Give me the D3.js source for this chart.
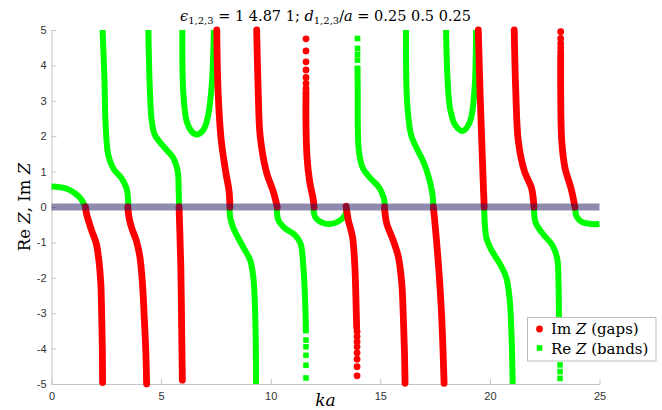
<!DOCTYPE html>
<html>
<head>
<meta charset="utf-8">
<script src="https://cdn.jsdelivr.net/npm/d3@7"></script>
<style>
  body { margin: 0; background: #fff; }
  svg { display: block; }
  .tick text { font-family: "Liberation Sans", Arial, sans-serif; font-size: 11px; fill: #333; }
  .serif { font-family: "DejaVu Serif", "Liberation Serif", serif; fill: #000; }
</style>
</head>
<body>
<div id="canvas"></div>
<script>
// tick labels
var xTicks = [0, 5, 10, 15, 20, 25];
var yTicks = [-5, -4, -3, -2, -1, 0, 1, 2, 3, 4, 5];

// Im Z (gaps) -- continuous parts [ka, Im Z]
var imGap1 = [[1.55,0],[1.6,-0.2],[1.72,-0.45],[1.85,-0.7],[2.04,-1.03],[2.16,-1.5],[2.25,-2.16],[2.29,-3.1],[2.32,-4.04],[2.33,-4.96]];
var imGap2 = [[3.48,0],[3.53,-0.27],[3.65,-0.58],[3.87,-0.95],[4.03,-1.4],[4.15,-2.16],[4.23,-3.1],[4.3,-4.04],[4.34,-5]];
var imGap3 = [[5.82,0],[5.85,-0.6],[5.9,-1.69],[5.94,-3.56],[5.97,-4.89]];
var imGap4 = [[7.54,5],[7.6,3.26],[7.74,1.9],[7.96,0.95],[8.1,0.45],[8.14,0]];
var imGap5 = [[9.36,5],[9.43,3.26],[9.52,2.0],[9.8,1.0],[10.12,0.43],[10.3,0]];
var imGap6 = [[11.61,3.25],[11.61,2.32],[11.66,1.38],[11.78,0.71],[11.93,0.25],[11.98,0]];
var imGap7 = [[13.44,0.02],[13.54,-0.37],[13.73,-0.84],[13.84,-1.69],[13.89,-2.63],[13.92,-3.4]];
var imGap8 = [[15.19,0],[15.29,-0.46],[15.58,-0.93],[15.82,-1.4],[15.98,-2.16],[16.05,-3.1],[16.1,-4.04],[16.13,-4.98]];
var imGap9 = [[17.42,0],[17.5,-0.5],[17.66,-1.69],[17.8,-3.1],[17.91,-4.98]];
var imGap10 = [[19.47,5],[19.55,3.26],[19.63,1.84],[19.7,0.62],[19.74,0]];
var imGap11 = [[21.11,5],[21.18,3.26],[21.3,1.84],[21.58,1.0],[21.9,0.53],[22.01,0]];
var imGap12 = [[23.23,4.3],[23.23,3.26],[23.28,1.84],[23.43,1.09],[23.7,0.53],[23.88,0]];
// Im Z -- single markers where the points thin out
var imDots = [
  [11.61,4.75],[11.61,4.41],[11.61,4.1],[11.61,3.87],[11.61,3.66],[11.61,3.49],[11.61,3.35],
  [13.94,-3.52],[13.94,-3.66],[13.94,-3.81],[13.94,-3.95],[13.94,-4.12],[13.94,-4.3],[13.94,-4.51],[13.94,-4.77],
  [23.23,4.95],[23.23,4.76],[23.23,4.62],[23.23,4.5],[23.23,4.39]
];

// Re Z (bands) -- continuous parts [ka, Re Z]
var reBand1 = [[0,0.58],[0.62,0.53],[1.07,0.39],[1.38,0.2],[1.53,0],[1.55,-0.05]];
var reBand2 = [[2.33,5],[2.41,3.73],[2.47,2.32],[2.59,1.47],[2.82,1.09],[3.2,0.81],[3.42,0.53],[3.49,0.25],[3.5,0]];
var reBand3 = [[4.42,5],[4.49,3.26],[4.58,2.4],[4.72,2.03],[5.18,1.66],[5.56,1.38],[5.76,1.0],[5.8,0.5],[5.82,0]];
var reBand4 = [[5.97,5],[6.01,3.26],[6.17,2.41],[6.4,2.13],[6.62,2.05],[6.93,2.18],[7.15,2.6],[7.31,3.45],[7.41,5]];
var reBand5 = [[8.12,0],[8.16,-0.32],[8.3,-0.6],[8.75,-1.14],[9.06,-1.5],[9.21,-2.0],[9.28,-2.77],[9.32,-3.9],[9.33,-5]];
var reBand6 = [[10.28,0],[10.35,-0.37],[10.65,-0.6],[11.1,-0.79],[11.36,-1.03],[11.49,-1.69],[11.57,-2.63],[11.61,-3.57]];
var reBand7 = [[11.96,0],[12.02,-0.27],[12.33,-0.44],[12.71,-0.48],[13.08,-0.41],[13.39,-0.23],[13.47,0]];
var reBand8 = [[13.96,4.0],[13.97,3.26],[14.02,1.6],[14.2,1.1],[14.6,0.78],[14.95,0.55],[15.16,0.25],[15.21,0]];
var reBand9 = [[16.17,5],[16.2,3.26],[16.28,2.55],[16.42,2.0],[16.7,1.61],[16.95,1.3],[17.16,0.95],[17.37,0.4],[17.42,0]];
var reBand10 = [[18.0,5],[18.06,3.73],[18.18,2.79],[18.41,2.32],[18.76,2.15],[19.09,2.41],[19.29,3.26],[19.37,5]];
var reBand11 = [[19.74,0],[19.77,-0.5],[19.85,-0.9],[20.1,-1.25],[20.45,-1.6],[20.75,-2.0],[20.9,-2.6],[20.98,-3.5],[21.04,-5]];
var reBand12 = [[22.01,0],[22.08,-0.43],[22.4,-0.75],[22.85,-1.08],[23.07,-1.45],[23.13,-2.16],[23.15,-3.1],[23.17,-4.04],[23.19,-4.3]];
var reBand13 = [[23.88,0],[23.96,-0.27],[24.19,-0.42],[24.64,-0.48],[25.0,-0.48]];
// Re Z -- single markers
var reSquares = [
  [11.61,-3.76],[11.61,-3.95],[11.61,-4.19],[11.61,-4.47],[11.61,-4.83],
  [13.96,4.76],[13.96,4.48],[13.96,4.31],[13.96,4.15],
  [23.2,-4.46],[23.2,-4.65],[23.2,-4.84]
];

var imGaps = [imGap1, imGap2, imGap3, imGap4, imGap5, imGap6, imGap7, imGap8, imGap9, imGap10, imGap11, imGap12];
var reBands = [reBand1, reBand2, reBand3, reBand4, reBand5, reBand6, reBand7, reBand8, reBand9, reBand10, reBand11, reBand12, reBand13];

var red = "#ff0000";
var green = "#00ff00";
var width = 662, height = 410;

var svg = d3.select("#canvas").append("svg").attr("width", width).attr("height", height);

var x = d3.scaleLinear().domain([0, 25]).range([51.5, 599.5]);
var y = d3.scaleLinear().domain([-5, 5]).range([384, 30]);

// axes (MATLAB style, ticks inside, no box)
svg.append("g")
    .attr("transform", "translate(0," + y(-5) + ")")
    .call(d3.axisBottom(x).tickValues(xTicks).tickSizeInner(-5).tickSizeOuter(0).tickPadding(8)
        .tickFormat(function(d) { return String(d); }));
svg.append("g")
    .attr("transform", "translate(" + x(0) + ",0)")
    .call(d3.axisLeft(y).tickValues(yTicks).tickSizeInner(-5).tickSizeOuter(0).tickPadding(5)
        .tickFormat(function(d) { return String(d); }));
svg.selectAll(".domain").attr("stroke", "#c4c4c4").attr("stroke-width", 1);
svg.selectAll(".tick line").attr("stroke", "#c4c4c4");

var line = d3.line()
    .x(function(d) { return x(d[0]); })
    .y(function(d) { return y(d[1]); })
    .curve(d3.curveCatmullRom.alpha(0.5));

// Re Z
svg.append("g").selectAll("path")
    .data(reBands)
    .enter()
    .append("path")
    .attr("d", line)
    .attr("fill", "none")
    .attr("stroke", green)
    .attr("stroke-width", 6)
    .attr("stroke-linecap", "butt");
svg.append("g").selectAll("rect")
    .data(reSquares)
    .enter()
    .append("rect")
    .attr("x", function(d) { return x(d[0]) - 2.8; })
    .attr("y", function(d) { return y(d[1]) - 2.8; })
    .attr("width", 5.6)
    .attr("height", 5.6)
    .attr("fill", green);

// Im Z
svg.append("g").selectAll("path")
    .data(imGaps)
    .enter()
    .append("path")
    .attr("d", line)
    .attr("fill", "none")
    .attr("stroke", red)
    .attr("stroke-width", 6.8)
    .attr("stroke-linecap", "round");
svg.append("g").selectAll("circle")
    .data(imDots)
    .enter()
    .append("circle")
    .attr("cx", function(d) { return x(d[0]); })
    .attr("cy", function(d) { return y(d[1]); })
    .attr("r", 3.4)
    .attr("fill", red);

// zero band
svg.append("line")
    .attr("x1", x(0)).attr("x2", x(25))
    .attr("y1", y(0)).attr("y2", y(0))
    .attr("stroke", "rgb(32,24,96)")
    .attr("stroke-opacity", 0.5)
    .attr("stroke-width", 7);

// title
var title = svg.append("text")
    .attr("class", "serif")
    .attr("x", (x(0) + x(25)) / 2)
    .attr("y", 21)
    .attr("text-anchor", "middle")
    .attr("font-size", "14.5px");
title.append("tspan").attr("font-style", "italic").text("ϵ");
title.append("tspan").attr("font-size", "10px").attr("dy", 3).text("1,2,3");
title.append("tspan").attr("dy", -3).text(" = 1 4.87 1; ");
title.append("tspan").attr("font-style", "italic").text("d");
title.append("tspan").attr("font-size", "10px").attr("dy", 3).text("1,2,3");
title.append("tspan").attr("dy", -3).text("/");
title.append("tspan").attr("font-style", "italic").text("a");
title.append("tspan").text(" = 0.25 0.5 0.25");

// axis labels
var yLabel = svg.append("text")
    .attr("class", "serif")
    .attr("transform", "translate(30," + y(0) + ") rotate(-90)")
    .attr("text-anchor", "middle")
    .attr("font-size", "16.5px");
yLabel.append("tspan").text("Re ");
yLabel.append("tspan").attr("font-style", "italic").text("Z");
yLabel.append("tspan").text(", Im ");
yLabel.append("tspan").attr("font-style", "italic").text("Z");

svg.append("text")
    .attr("class", "serif")
    .attr("x", (x(0) + x(25)) / 2)
    .attr("y", 406)
    .attr("text-anchor", "middle")
    .attr("font-size", "17px")
    .attr("font-style", "italic")
    .text("ka");

// legend
var legend = svg.append("g").attr("transform", "translate(527.5,317.5)");
legend.append("rect")
    .attr("width", 128.5).attr("height", 43.5)
    .attr("fill", "#fff").attr("stroke", "#bdbdbd");
legend.append("circle").attr("cx", 12).attr("cy", 11.5).attr("r", 3.4).attr("fill", red);
legend.append("rect").attr("x", 9.2).attr("y", 27.7).attr("width", 5.6).attr("height", 5.6).attr("fill", green);
var l1 = legend.append("text").attr("class", "serif").attr("x", 23.5).attr("y", 16.5).attr("font-size", "15px");
l1.append("tspan").text("Im ");
l1.append("tspan").attr("font-style", "italic").text("Z");
l1.append("tspan").text(" (gaps)");
var l2 = legend.append("text").attr("class", "serif").attr("x", 23.5).attr("y", 36.5).attr("font-size", "15px");
l2.append("tspan").text("Re ");
l2.append("tspan").attr("font-style", "italic").text("Z");
l2.append("tspan").text(" (bands)");
</script>
</body>
</html>
